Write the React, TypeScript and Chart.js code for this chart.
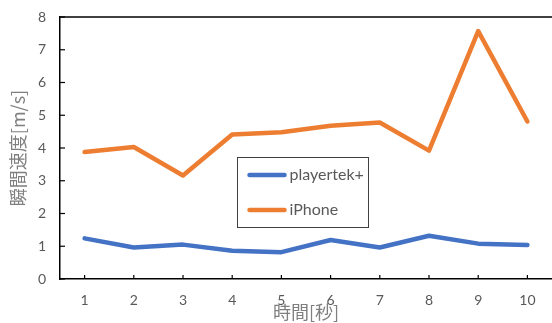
import React, { useEffect, useRef } from "react";
import { Chart, registerables } from "chart.js";

Chart.register(...registerables);

const categories = ["1", "2", "3", "4", "5", "6", "7", "8", "9", "10"];
const playertek = [1.24, 0.96, 1.05, 0.86, 0.82, 1.19, 0.96, 1.32, 1.08, 1.04];
const iphone = [3.88, 4.03, 3.16, 4.41, 4.48, 4.68, 4.78, 3.92, 7.57, 4.81];
const seriesNames = ["playertek+", "iPhone"];
const yTitle = "瞬間速度[m/s]";
const xTitle = "時間[秒]";

const LATIN = "Lato, 'Noto Sans', sans-serif";
const CJK = "'Noto Sans CJK JP', sans-serif";

const framePlugin = {
  id: "frame",
  afterDraw(chart: any) {
    const { ctx, chartArea } = chart;
    const x = chart.scales.x;
    const y = chart.scales.y;
    ctx.save();
    ctx.strokeStyle = "#000";
    ctx.lineWidth = 1.5;
    ctx.beginPath();
    ctx.moveTo(chartArea.left, chartArea.top);
    ctx.lineTo(chartArea.right, chartArea.top);
    ctx.stroke();
    ctx.lineWidth = 1.2;
    y.ticks.forEach((_t: any, i: number) => {
      const py = y.getPixelForTick(i);
      ctx.beginPath();
      ctx.moveTo(chartArea.left, py);
      ctx.lineTo(chartArea.left + 5, py);
      ctx.stroke();
    });
    x.ticks.forEach((_t: any, i: number) => {
      const px = x.getPixelForTick(i);
      ctx.beginPath();
      ctx.moveTo(px, chartArea.bottom);
      ctx.lineTo(px, chartArea.bottom - 4);
      ctx.stroke();
    });
    const bx = chartArea.left + 177.5;
    const by = 157.5;
    const bw = 131;
    const bh = 70;
    ctx.fillStyle = "#fff";
    ctx.fillRect(bx, by, bw, bh);
    ctx.strokeStyle = "#404040";
    ctx.lineWidth = 1;
    ctx.strokeRect(bx, by, bw, bh);
    chart.data.datasets.forEach((ds: any, i: number) => {
      const ly = by + 17.5 + i * 35;
      ctx.strokeStyle = ds.borderColor;
      ctx.lineWidth = 4.5;
      ctx.lineCap = "round";
      ctx.beginPath();
      ctx.moveTo(bx + 12, ly);
      ctx.lineTo(bx + 47, ly);
      ctx.stroke();
      ctx.fillStyle = "#595959";
      ctx.font = `16px ${LATIN}`;
      ctx.textBaseline = "middle";
      ctx.textAlign = "left";
      ctx.fillText(ds.label, bx + 52, ly);
    });
    ctx.restore();
  },
};

export default function App() {
  const ref = useRef<HTMLCanvasElement>(null);
  useEffect(() => {
    document.body.style.margin = "0";
    const chart = new Chart(ref.current!, {
      type: "line",
      data: {
        labels: categories,
        datasets: [
          {
            label: seriesNames[0],
            data: playertek,
            borderColor: "#4472C4",
            backgroundColor: "#4472C4",
            borderWidth: 4.5,
            pointRadius: 0,
            tension: 0,
            borderCapStyle: "round",
            borderJoinStyle: "round",
          },
          {
            label: seriesNames[1],
            data: iphone,
            borderColor: "#ED7D31",
            backgroundColor: "#ED7D31",
            borderWidth: 4.5,
            pointRadius: 0,
            tension: 0,
            borderCapStyle: "round",
            borderJoinStyle: "round",
          },
        ],
      },
      options: {
        animation: false,
        responsive: false,
        layout: { padding: { top: 17, left: 0, right: 0, bottom: 0 } },
        plugins: {
          legend: { display: false },
          tooltip: { enabled: false },
        },
        scales: {
          x: {
            offset: true,
            grid: { display: false, drawTicks: false, offset: true },
            border: { display: true, color: "#000", width: 1.5 },
            ticks: {
              color: "#595959",
              font: { family: LATIN, size: 14 },
              padding: 13,
              maxRotation: 0,
            },
            title: {
              display: true,
              text: xTitle,
              color: "#7f7f7f",
              font: { family: CJK, size: 18 },
              padding: { top: 0, bottom: 0 },
            },
            afterFit(scale: any) {
              scale.height = 44;
              scale.paddingLeft = 0;
              scale.paddingRight = 0;
            },
          },
          y: {
            min: 0,
            max: 8,
            ticks: {
              stepSize: 1,
              color: "#595959",
              font: { family: LATIN, size: 14 },
              padding: 14,
            },
            grid: { display: false, drawTicks: false },
            border: { display: true, color: "#000", width: 1.5 },
            title: {
              display: true,
              text: yTitle,
              color: "#7f7f7f",
              font: { family: CJK, size: 18 },
              padding: { top: 7, bottom: 0 },
            },
            afterFit(scale: any) {
              scale.width = 60;
              scale.paddingTop = 0;
              scale.paddingBottom = 0;
            },
          },
        },
      },
      plugins: [framePlugin],
    });
    return () => chart.destroy();
  }, []);
  return <canvas ref={ref} width={552} height={323} style={{ display: "block" }} />;
}
